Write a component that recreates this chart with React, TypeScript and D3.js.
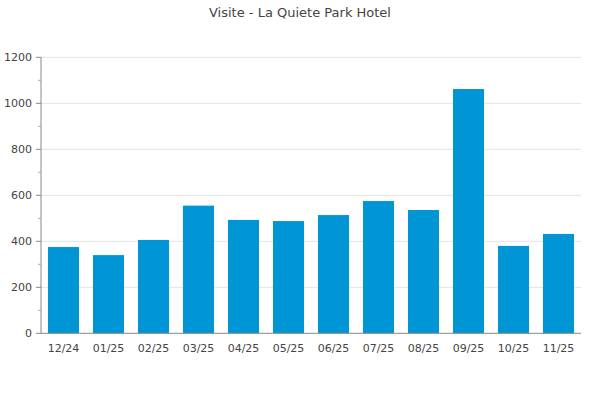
import React from "react";
import * as d3 from "d3";

const categories = ["12/24","01/25","02/25","03/25","04/25","05/25","06/25","07/25","08/25","09/25","10/25","11/25"];
const visits = [375, 340, 406, 555, 493, 488, 514, 575, 536, 1062, 380, 432];
const yTicks = [0, 200, 400, 600, 800, 1000, 1200];
const yMinorTicks = [100, 300, 500, 700, 900, 1100];
const title = "Visite - La Quiete Park Hotel";

export default function App() {
  const W = 600, H = 400;
  const left = 41, right = 581, top = 57.3, bottom = 333.3;
  const x = d3.scaleBand<string>().domain(categories).range([left, right]).paddingInner(0.31).paddingOuter(0.155);
  const y = d3.scaleLinear().domain([0, 1200]).range([bottom, top]);
  const font = "DejaVu Sans, sans-serif";
  const textColor = "#444";
  return (
    <svg width={W} height={H} style={{ position: "absolute", left: 0, top: 0 }} fontFamily={font}>
      <rect width={W} height={H} fill="#fff" />
      <text x={300} y={16.5} textAnchor="middle" fontSize={13} fill={textColor}>{title}</text>
      {yTicks.filter(t => t > 0).map(t => (
        <line key={t} x1={left} x2={right} y1={y(t)} y2={y(t)} stroke="#e3e3e3" strokeWidth={1} />
      ))}
      {visits.map((v, i) => (
        <rect key={i} x={x(categories[i])} y={y(v)} width={x.bandwidth()} height={y(0) - y(v)} fill="#0095d5" />
      ))}
      <line x1={left} x2={left} y1={top} y2={bottom} stroke="#888" strokeWidth={1} />
      <line x1={left} x2={right} y1={bottom} y2={bottom} stroke="#888" strokeWidth={1} />
      {yTicks.map(t => (
        <g key={t}>
          <line x1={left - 5} x2={left} y1={y(t)} y2={y(t)} stroke="#888" />
          <text x={left - 9} y={y(t)} dy="0.35em" textAnchor="end" fontSize={11} fill={textColor}>{t}</text>
        </g>
      ))}
      {yMinorTicks.map(t => (
        <line key={t} x1={left - 3} x2={left} y1={y(t)} y2={y(t)} stroke="#aaa" />
      ))}
      {categories.map(c => (
        <text key={c} x={(x(c) as number) + x.bandwidth() / 2} y={bottom + 18.5} textAnchor="middle" fontSize={11} fill={textColor}>{c}</text>
      ))}
    </svg>
  );
}
